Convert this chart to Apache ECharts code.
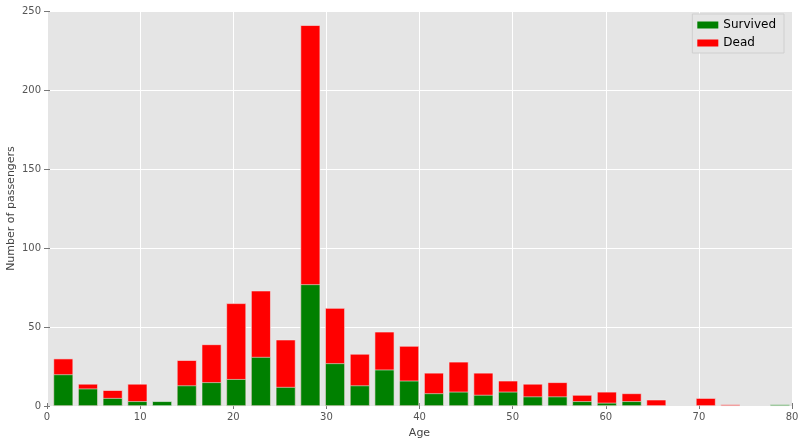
<!DOCTYPE html>
<html>
<head>
<meta charset="utf-8">
<script src="https://cdn.jsdelivr.net/npm/echarts@6/dist/echarts.min.js"></script>
<style>html,body{margin:0;padding:0;background:#fff;}#c{width:800px;height:444px;}</style>
</head>
<body>
<div id="c"></div>
<script>
// Bin centres (30 bins from 0.42 to 80)
const binCenters = [1.75, 4.40, 7.05, 9.71, 12.36, 15.01, 17.67, 20.32, 22.97, 25.63,
  28.28, 30.93, 33.59, 36.24, 38.89, 41.55, 44.20, 46.86, 49.51, 52.16,
  54.82, 57.47, 60.12, 62.78, 65.43, 68.08, 70.74, 73.39, 76.04, 78.70];
const survived = [20, 11, 5, 3, 3, 13, 15, 17, 31, 12,
  77, 27, 13, 23, 16, 8, 9, 7, 9, 6,
  6, 3, 2, 3, 0, 0, 0, 0, 0, 1];
const dead = [10, 3, 5, 11, 0, 16, 24, 48, 42, 30,
  164, 35, 20, 24, 22, 13, 19, 14, 7, 8,
  9, 4, 7, 5, 4, 0, 5, 1, 0, 0];
const xTicks = [0, 10, 20, 30, 40, 50, 60, 70, 80];
const yTicks = [0, 50, 100, 150, 200, 250];

const font = 'DejaVu Sans';
const chart = echarts.init(document.getElementById('c'));
// Dead is stacked on top of Survived: its bar spans from 0 to survived+dead, drawn behind Survived.
const deadStackTop = binCenters.map((x, i) => [x, dead[i] === 0 ? null : survived[i] + dead[i]]);
const survivedPairs = binCenters.map((x, i) => [x, survived[i] === 0 ? null : survived[i]]);
chart.setOption({
  animation: false,
  textStyle: { fontFamily: font },
  grid: { left: 47, right: 8, top: 11, bottom: 38, show: true, backgroundColor: '#E5E5E5', borderWidth: 0,
    containLabel: false, outerBoundsMode: 'none' },
  legend: {
    orient: 'vertical', right: 16, top: 14,
    data: ['Survived', 'Dead'],
    icon: 'rect', itemWidth: 21, itemHeight: 7, itemGap: 6,
    itemStyle: { borderWidth: 0 },
    backgroundColor: '#E5E5E5', borderColor: '#cfcfcf', borderWidth: 1, padding: [5, 8, 4, 5],
    textStyle: { fontFamily: font, fontSize: 12, color: '#000' }
  },
  xAxis: [{
    type: 'value', min: xTicks[0], max: xTicks[xTicks.length - 1], interval: 10,
    name: 'Age', nameLocation: 'middle', nameGap: 22, nameMoveOverlap: false,
    nameTextStyle: { fontFamily: font, fontSize: 11, color: '#444' },
    axisLine: { show: false },
    axisTick: { show: true, length: 3, lineStyle: { color: '#777' } },
    axisLabel: { fontFamily: font, fontSize: 10, color: '#555', margin: 6 },
    splitLine: { show: true, lineStyle: { color: '#fff', width: 1 } }
  }, {
    type: 'value', position: 'top', min: xTicks[0], max: xTicks[xTicks.length - 1], interval: 10,
    axisLine: { show: false }, axisLabel: { show: false }, splitLine: { show: false },
    axisTick: { show: true, length: 3, lineStyle: { color: '#777' } }
  }],
  yAxis: [{
    type: 'value', min: yTicks[0], max: yTicks[yTicks.length - 1], interval: 50,
    name: 'Number of passengers', nameLocation: 'middle', nameGap: 30, nameMoveOverlap: false,
    nameTextStyle: { fontFamily: font, fontSize: 11, color: '#444' },
    axisLine: { show: false },
    axisTick: { show: true, length: 3, lineStyle: { color: '#777' } },
    axisLabel: { fontFamily: font, fontSize: 10, color: '#555', margin: 6 },
    splitLine: { show: true, lineStyle: { color: '#fff', width: 1 } }
  }, {
    type: 'value', position: 'right', min: yTicks[0], max: yTicks[yTicks.length - 1], interval: 50,
    axisLine: { show: false }, axisLabel: { show: false }, splitLine: { show: false },
    axisTick: { show: true, length: 3, lineStyle: { color: '#777' } }
  }],
  series: [{
    name: 'Dead', type: 'bar', barWidth: '80%', barGap: '-100%',
    data: deadStackTop,
    itemStyle: { color: '#FF0000', borderColor: '#ececec', borderWidth: 0.6 }
  }, {
    name: 'Survived', type: 'bar', barWidth: '80%', barGap: '-100%',
    data: survivedPairs,
    itemStyle: { color: '#008000', borderColor: '#ececec', borderWidth: 0.6 }
  }]
});
</script>
</body>
</html>
